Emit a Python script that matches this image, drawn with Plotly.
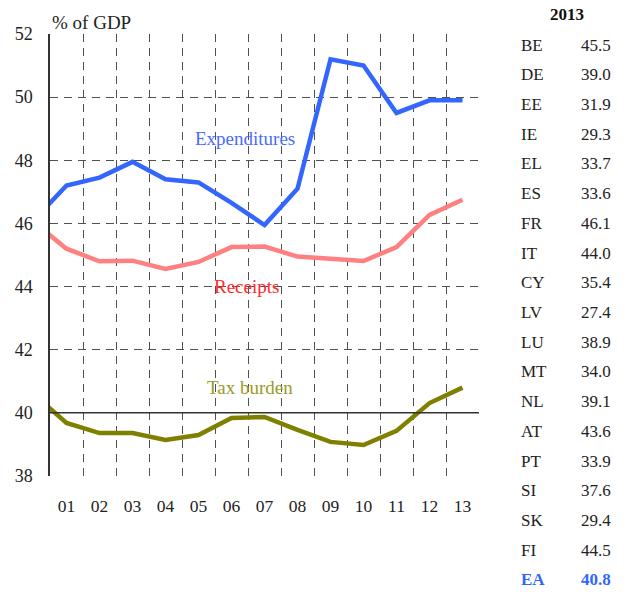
import plotly.graph_objects as go

# Euro area general government aggregates, % of GDP
years = list(range(2000, 2014))
expenditures = [46.1, 47.2, 47.45, 47.95, 47.4, 47.3, 46.65, 45.95, 47.1, 51.2, 51.0, 49.5, 49.9, 49.9]
receipts = [46.05, 45.2, 44.8, 44.82, 44.56, 44.78, 45.25, 45.27, 44.95, 44.87, 44.81, 45.25, 46.27, 46.75]
tax_burden = [40.6, 39.68, 39.36, 39.36, 39.14, 39.3, 39.84, 39.87, 39.46, 39.08, 38.98, 39.43, 40.31, 40.8]

tick_years = list(range(2001, 2014))
tick_labels = [f"{y % 100:02d}" for y in tick_years]

# Tax burden by country, 2013
countries = ["BE", "DE", "EE", "IE", "EL", "ES", "FR", "IT", "CY", "LV",
             "LU", "MT", "NL", "AT", "PT", "SI", "SK", "FI", "EA"]
burden_2013 = [45.5, 39.0, 31.9, 29.3, 33.7, 33.6, 46.1, 44.0, 35.4, 27.4,
               38.9, 34.0, 39.1, 43.6, 33.9, 37.6, 29.4, 44.5, 40.8]

FONT = "Liberation Serif"
GRID = "#505050"
BLUE = "#3366ff"
SALMON = "#ff8080"
OLIVE = "#808000"

fig = go.Figure()

fig.add_trace(go.Scatter(x=years, y=expenditures, mode="lines",
                         line=dict(color=BLUE, width=4.5), showlegend=False))
fig.add_trace(go.Scatter(x=years, y=receipts, mode="lines",
                         line=dict(color=SALMON, width=4.5), showlegend=False))
fig.add_trace(go.Scatter(x=years, y=tax_burden, mode="lines",
                         line=dict(color=OLIVE, width=4.5), showlegend=False))
# invisible trace to carry the year-boundary grid axis
fig.add_trace(go.Scatter(x=[2000.5, 2013.5], y=[45, 45], xaxis="x2",
                         mode="lines", line=dict(width=0), hoverinfo="skip",
                         showlegend=False))

x_range = [2000.5, 2013.5]

fig.update_layout(
    width=628, height=592,
    margin=dict(l=50, r=149, t=34, b=116),
    paper_bgcolor="white", plot_bgcolor="white",
    font=dict(family=FONT, size=16, color="#222222"),
    xaxis=dict(range=x_range, tickvals=tick_years, ticktext=tick_labels,
               showgrid=False, zeroline=False, showline=False,
               ticks="outside", ticklen=14, tickcolor="rgba(0,0,0,0)",
               tickfont=dict(family=FONT, size=17.5, color="#222222")),
    xaxis2=dict(range=x_range, overlaying="x", tickvals=[y + 0.5 for y in range(2001, 2014)],
                showticklabels=False, showgrid=True, gridcolor=GRID,
                griddash="8px,6px", gridwidth=1.4, zeroline=False, showline=False),
    yaxis=dict(range=[38, 52], dtick=2, showgrid=True, gridcolor=GRID,
               griddash="8px,6px", gridwidth=1.4, zeroline=False,
               showline=True, linecolor="#333333", linewidth=1.5,
               ticks="outside", ticklen=12, tickcolor="rgba(0,0,0,0)",
               tickfont=dict(family=FONT, size=18, color="#222222")),
)

# solid reference line at 40
fig.add_shape(type="line", xref="paper", yref="y", x0=0, x1=1, y0=40, y1=40,
              line=dict(color="#333333", width=1.5))

ann = []
ann.append(dict(text="% of GDP", xref="paper", yref="paper", x=0.0, y=1.027,
                xanchor="left", yanchor="middle", showarrow=False,
                font=dict(family=FONT, size=19, color="#222222")))
ann.append(dict(text="Expenditures", x=2006.4, y=48.7, showarrow=False,
                font=dict(family=FONT, size=19, color="#4a6cff")))
ann.append(dict(text="Receipts", x=2006.45, y=44.0, showarrow=False,
                font=dict(family=FONT, size=19, color="#ff2a2a")))
ann.append(dict(text="Tax burden", x=2006.55, y=40.8, showarrow=False,
                font=dict(family=FONT, size=19, color="#9a9a2a")))

# side table
ann.append(dict(text="<b>2013</b>", xref="paper", yref="paper",
                x=(567 - 50) / 429, y=(476 - 15) / 442, xanchor="center",
                yanchor="middle", showarrow=False,
                font=dict(family=FONT, size=17, color="#111111")))
for i, (c, v) in enumerate(zip(countries, burden_2013)):
    py = 45 + 29.72 * i
    yp = (476 - py) / 442
    is_ea = c == "EA"
    col = BLUE if is_ea else "#222222"
    ct = f"<b>{c}</b>" if is_ea else c
    vt = f"<b>{v:.1f}</b>" if is_ea else f"{v:.1f}"
    ann.append(dict(text=ct, xref="paper", yref="paper", x=(519 - 50) / 429,
                    y=yp, xanchor="left", yanchor="middle", showarrow=False,
                    font=dict(family=FONT, size=17, color=col)))
    ann.append(dict(text=vt, xref="paper", yref="paper", x=(613 - 50) / 429,
                    y=yp, xanchor="right", yanchor="middle", showarrow=False,
                    font=dict(family=FONT, size=17, color=col)))

fig.update_layout(annotations=ann)

fig.write_html("out.html")
